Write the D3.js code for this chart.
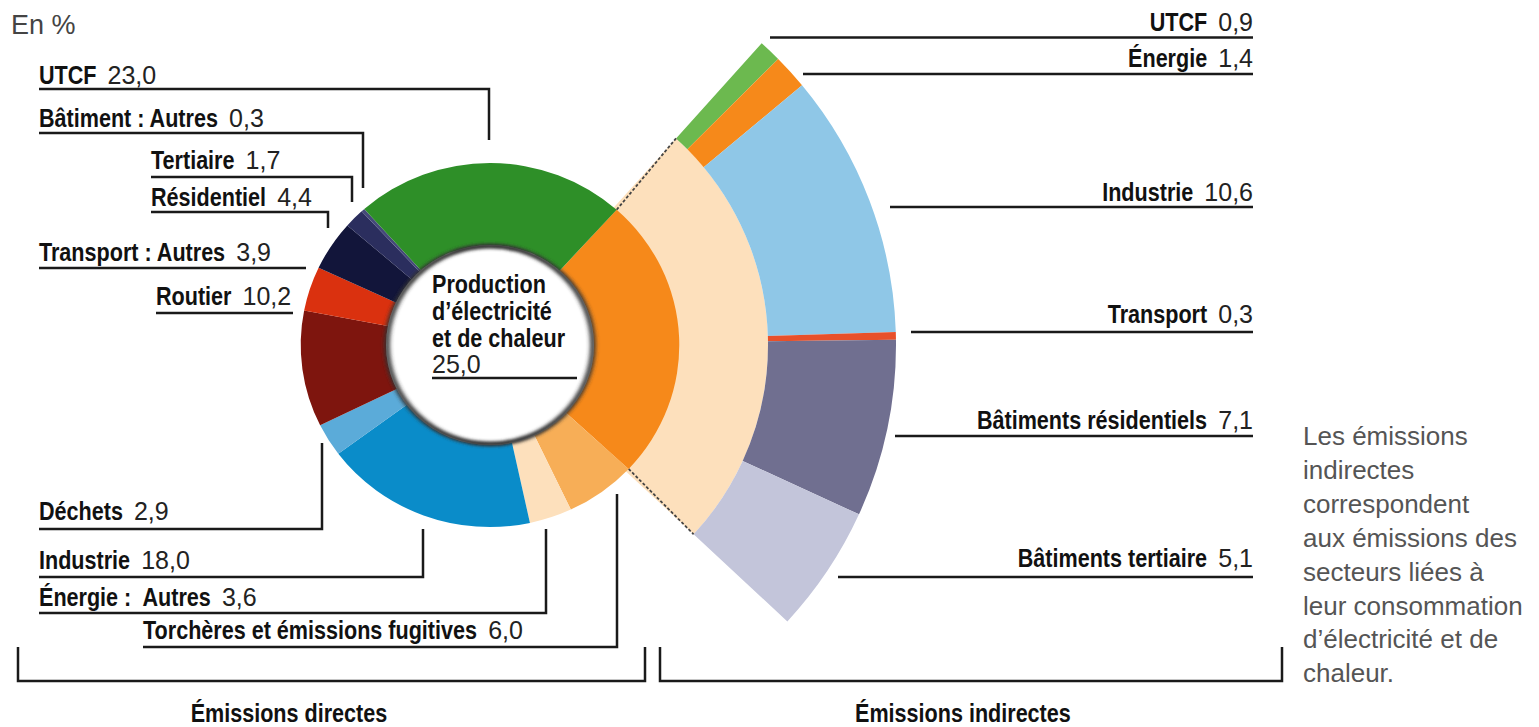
<!doctype html>
<html lang="fr">
  <head>
    <meta charset="utf-8">
    <title>Émissions directes et indirectes</title>
    <style>
    body { margin: 0; background: #fff; }
    .name { font-family: "Liberation Sans", Arial, sans-serif; font-weight: bold; fill: #111; }
    .num { font-family: "Liberation Sans", Arial, sans-serif; font-weight: normal; fill: #222; }
    .lead { fill: none; stroke: #1a1a1a; stroke-width: 2.5; }
    </style>
  </head>
  <body>
    <div id="content"></div>

    <script src="https://d3js.org/d3.v7.min.js"></script>
    <script type="text/javascript">
    var w = 1539;
    var h = 727;

    // direct emissions (donut), clockwise from the electricity slice
    var directNames = ['Production d’électricité et de chaleur', 'Torchères et émissions fugitives',
                       'Énergie :\u00a0 Autres', 'Industrie', 'Déchets', 'Routier', 'Transport : Autres',
                       'Résidentiel', 'Tertiaire', 'Bâtiment : Autres', 'UTCF'];
    var directValues = [25.0, 6.0, 3.6, 18.0, 2.9, 10.2, 3.9, 4.4, 1.7, 0.3, 23.0];
    var directColors = ['#f6891a', '#f7ae57', '#fde0bc', '#0a8cc9', '#5babd9', '#7e150e', '#da310f',
                        '#12153a', '#2b2e5e', '#454a7a', '#2e8f28'];

    // indirect emissions (fan), top to bottom
    var indirectNames = ['UTCF', 'Énergie', 'Industrie', 'Transport', 'Bâtiments résidentiels', 'Bâtiments tertiaire'];
    var indirectValues = [0.9, 1.4, 10.6, 0.3, 7.1, 5.1];
    var indirectColors = ['#6cb94f', '#f6891a', '#8fc7e7', '#e8502a', '#706f90', '#c3c5da'];

    var noteLines = ['Les émissions', 'indirectes', 'correspondent', 'aux émissions des',
                     'secteurs liées à', 'leur consommation', 'd’électricité et de', 'chaleur.'];

    // label placement (text x / baseline, underline y, elbow x, end y)
    var directLayout = [
      null,
      {x: 143, y: 639, ly: 647, ex: 617, ey: 494},
      {x: 39, y: 606, ly: 613, ex: 546, ey: 529},
      {x: 39, y: 569, ly: 577, ex: 423, ey: 529},
      {x: 39, y: 520, ly: 529, ex: 322, ey: 443},
      {x: 156, y: 305, ly: 313, ex: 293, ey: 313},
      {x: 39, y: 261, ly: 268, ex: 306, ey: 268},
      {x: 151, y: 206, ly: 212, ex: 328, ey: 228},
      {x: 151, y: 169, ly: 177, ex: 352, ey: 202},
      {x: 39, y: 127, ly: 133, ex: 363, ey: 188},
      {x: 39, y: 84, ly: 89, ex: 489, ey: 140}
    ];
    var indirectLayout = [
      {y: 31, ly: 37.5, x0: 770},
      {y: 67, ly: 74, x0: 803},
      {y: 201, ly: 207, x0: 890},
      {y: 323, ly: 332, x0: 911},
      {y: 429, ly: 436, x0: 895},
      {y: 567, ly: 577, x0: 838}
    ];

    var cx = 490, cy = 345;
    var rOut = 182, rIn = 100, sx = 1.04;
    var rBand = 278, rFan = 406;
    var rightEdge = 1253;
    var narrow = 0.83;   // condensed look for the bold labels
    var fsName = 26, fsNum = 25;
    var fmt = function(v) { return v.toFixed(1).replace('.', ','); };

    var svg = d3.select('#content')
                .append('svg')
                .attr('width', w)
                .attr('height', h);

    var defs = svg.append('defs');
    defs.append('filter')
        .attr('id', 'fuzz')
        .attr('x', '-20%').attr('y', '-20%').attr('width', '140%').attr('height', '140%')
        .append('feGaussianBlur')
        .attr('stdDeviation', 1.8);

    // bold name squeezed horizontally, returns its drawn width
    function boldText(x, y, str, anchor) {
      var t = svg.append('text').attr('class', 'name').attr('font-size', fsName).text(str);
      var wd = t.node().getComputedTextLength() * narrow;
      var x0 = anchor === 'end' ? x - wd : (anchor === 'middle' ? x - wd / 2 : x);
      t.attr('transform', `translate(${x0}, ${y}) scale(${narrow}, 1)`);
      return wd;
    }

    function numText(x, y, str, anchor) {
      var t = svg.append('text').attr('class', 'num').attr('font-size', fsNum)
                 .attr('x', x).attr('y', y).attr('text-anchor', anchor || 'start').text(str);
      return t.node().getComputedTextLength();
    }

    var pie = d3.pie().sort(null).value(function(d) { return d; })
                .startAngle(42 * Math.PI / 180)
                .endAngle(42 * Math.PI / 180 + 2 * Math.PI);
    var slices = pie(directValues);
    var prod = slices[0];

    // fan: electricity slice broken down by consuming sector
    var fanPie = d3.pie().sort(null).value(function(d) { return d; })
                   .startAngle(prod.startAngle)
                   .endAngle(prod.endAngle);
    var fanSlices = fanPie(indirectValues);

    var fanG = svg.append('g').attr('transform', `translate(${cx}, ${cy})`);

    fanG.append('path')
        .attr('d', d3.arc()({innerRadius: 150, outerRadius: rBand, startAngle: prod.startAngle, endAngle: prod.endAngle}))
        .attr('fill', '#fde0bc');

    fanG.selectAll('.fan')
        .data(fanSlices)
        .enter()
        .append('path')
        .attr('class', 'fan')
        .attr('d', d3.arc().innerRadius(rBand).outerRadius(rFan))
        .attr('fill', function(d, i) { return indirectColors[i]; });

    // dashed edges of the exploded slice
    [prod.startAngle, prod.endAngle].forEach(function(a) {
      fanG.append('line')
          .attr('x1', sx * rOut * Math.sin(a))
          .attr('y1', -rOut * Math.cos(a))
          .attr('x2', rBand * Math.sin(a))
          .attr('y2', -rBand * Math.cos(a))
          .attr('stroke', '#444')
          .attr('stroke-width', 1.8)
          .attr('stroke-dasharray', '3,2');
    });

    var donutG = svg.append('g').attr('transform', `translate(${cx}, ${cy}) scale(${sx}, 1)`);

    donutG.selectAll('.slice')
          .data(slices)
          .enter()
          .append('path')
          .attr('class', 'slice')
          .attr('d', d3.arc().innerRadius(rIn - 4).outerRadius(rOut))
          .attr('fill', function(d, i) { return directColors[i]; });

    donutG.append('circle').attr('r', rIn).attr('fill', '#fff');
    donutG.append('circle')
          .attr('r', rIn - 1)
          .attr('fill', 'none')
          .attr('stroke', '#333')
          .attr('stroke-width', 5)
          .attr('filter', 'url(#fuzz)');

    // center label
    ['Production', 'd’électricité', 'et de chaleur'].forEach(function(t, i) {
      boldText(432, 293 + i * 27, t);
    });
    numText(432, 373, fmt(directValues[0]));
    svg.append('path').attr('class', 'lead').attr('d', 'M432,378H577');

    // direct labels
    directLayout.forEach(function(p, i) {
      if (!p) return;
      var wd = boldText(p.x, p.y, directNames[i]);
      numText(p.x + wd + 11, p.y, fmt(directValues[i]));
      svg.append('path')
         .attr('class', 'lead')
         .attr('stroke-width', 2)
         .attr('d', `M${p.x},${p.ly}H${p.ex}V${p.ey}`);
    });

    // indirect labels
    indirectLayout.forEach(function(p, i) {
      var nw = numText(rightEdge, p.y, fmt(indirectValues[i]), 'end');
      boldText(rightEdge - nw - 11, p.y, indirectNames[i], 'end');
      svg.append('path')
         .attr('class', 'lead')
         .attr('stroke-width', 3)
         .attr('d', `M${p.x0},${p.ly}H${rightEdge}`);
    });

    // brackets
    svg.append('path').attr('class', 'lead').attr('stroke', '#333').attr('stroke-width', 2)
       .attr('d', 'M18,647V681H645V647');
    svg.append('path').attr('class', 'lead').attr('stroke', '#333').attr('stroke-width', 2)
       .attr('d', 'M660,647V681H1282V647');

    boldText(289, 722, 'Émissions directes', 'middle');
    boldText(963, 722, 'Émissions indirectes', 'middle');

    svg.append('text').attr('class', 'num').attr('x', 11).attr('y', 34).attr('font-size', 27)
       .style('fill', '#444').text('En %');

    var note = svg.append('text').attr('class', 'num').attr('font-size', 26).style('fill', '#555');
    noteLines.forEach(function(t, i) {
      note.append('tspan').attr('x', 1303).attr('y', 445 + i * 33.9).text(t);
    });
    </script>
  </body>
</html>
